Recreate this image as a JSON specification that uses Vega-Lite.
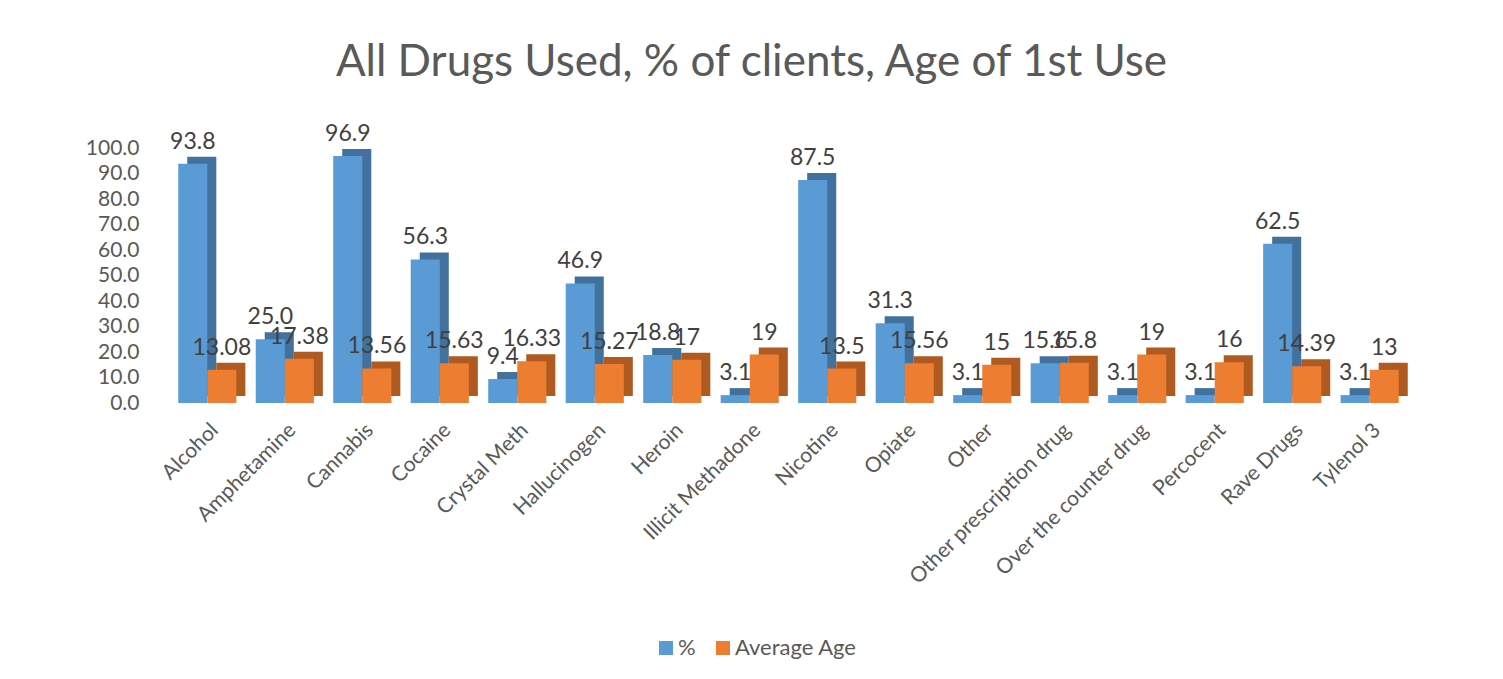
{
  "$schema": "https://vega.github.io/schema/vega-lite/v6.json",
  "width": 1267,
  "height": 255,
  "autosize": {"type": "none"},
  "padding": {"left": 155, "top": 148, "right": 81, "bottom": 276},
  "background": "white",
  "config": {
    "view": {"stroke": null},
    "font": "Lato"
  },
  "title": {
    "text": "All Drugs Used, % of clients, Age of 1st Use",
    "fontSize": 44,
    "font": "Lato",
    "fontWeight": "normal",
    "color": "#595959",
    "anchor": "middle",
    "dx": -37,
    "offset": 38
  },
  "data": {
    "values": [
      {"drug": "Alcohol", "series": "%", "value": 93.8},
      {"drug": "Alcohol", "series": "Average Age", "value": 13.08},
      {"drug": "Amphetamine", "series": "%", "value": 25.0},
      {"drug": "Amphetamine", "series": "Average Age", "value": 17.38},
      {"drug": "Cannabis", "series": "%", "value": 96.9},
      {"drug": "Cannabis", "series": "Average Age", "value": 13.56},
      {"drug": "Cocaine", "series": "%", "value": 56.3},
      {"drug": "Cocaine", "series": "Average Age", "value": 15.63},
      {"drug": "Crystal Meth", "series": "%", "value": 9.4},
      {"drug": "Crystal Meth", "series": "Average Age", "value": 16.33},
      {"drug": "Hallucinogen", "series": "%", "value": 46.9},
      {"drug": "Hallucinogen", "series": "Average Age", "value": 15.27},
      {"drug": "Heroin", "series": "%", "value": 18.8},
      {"drug": "Heroin", "series": "Average Age", "value": 17},
      {"drug": "Illicit Methadone", "series": "%", "value": 3.1},
      {"drug": "Illicit Methadone", "series": "Average Age", "value": 19},
      {"drug": "Nicotine", "series": "%", "value": 87.5},
      {"drug": "Nicotine", "series": "Average Age", "value": 13.5},
      {"drug": "Opiate", "series": "%", "value": 31.3},
      {"drug": "Opiate", "series": "Average Age", "value": 15.56},
      {"drug": "Other", "series": "%", "value": 3.1},
      {"drug": "Other", "series": "Average Age", "value": 15},
      {"drug": "Other prescription drug", "series": "%", "value": 15.6},
      {"drug": "Other prescription drug", "series": "Average Age", "value": 15.8},
      {"drug": "Over the counter drug", "series": "%", "value": 3.1},
      {"drug": "Over the counter drug", "series": "Average Age", "value": 19},
      {"drug": "Percocent", "series": "%", "value": 3.1},
      {"drug": "Percocent", "series": "Average Age", "value": 16},
      {"drug": "Rave Drugs", "series": "%", "value": 62.5},
      {"drug": "Rave Drugs", "series": "Average Age", "value": 14.39},
      {"drug": "Tylenol 3", "series": "%", "value": 3.1},
      {"drug": "Tylenol 3", "series": "Average Age", "value": 13}
    ]
  },
  "encoding": {
    "x": {
      "field": "drug",
      "type": "nominal",
      "sort": null,
      "scale": {"paddingInner": 0.25, "paddingOuter": 0.3},
      "axis": {
        "title": null,
        "labelAngle": -45,
        "labelFontSize": 21,
        "labelColor": "#595959",
        "labelFont": "Lato",
        "labelLimit": 500,
        "domain": false,
        "ticks": false,
        "labelPadding": 16
      }
    },
    "y": {
      "field": "value",
      "type": "quantitative",
      "scale": {"domain": [0, 100]},
      "axis": {
        "title": null,
        "values": [0, 10, 20, 30, 40, 50, 60, 70, 80, 90, 100],
        "format": ".1f",
        "grid": false,
        "domain": false,
        "ticks": false,
        "labelFontSize": 21,
        "labelColor": "#595959",
        "labelFont": "Lato",
        "labelPadding": 16
      }
    }
  },
  "layer": [
    {
      "mark": {"type": "bar", "yOffset": -7},
      "encoding": {
        "xOffset": {"field": "series", "type": "nominal", "sort": ["%", "Average Age"], "scale": {"domain": ["%", "Average Age"], "range": [9, 67.12]}},
        "color": {
          "field": "series",
          "type": "nominal",
          "scale": {"domain": ["%", "Average Age"], "range": ["#41719C", "#AE5A21"]},
          "legend": null
        }
      }
    },
    {
      "mark": {"type": "bar"},
      "encoding": {
        "xOffset": {"field": "series", "type": "nominal", "sort": ["%", "Average Age"], "scale": {"domain": ["%", "Average Age"]}},
        "color": {
          "field": "series",
          "type": "nominal",
          "scale": {"domain": ["%", "Average Age"], "range": ["#5B9BD5", "#ED7D31"]},
          "legend": {
            "title": null,
            "orient": "none",
            "direction": "horizontal",
            "legendX": 500,
            "legendY": 489,
            "symbolType": "square",
            "symbolSize": 196,
            "symbolStrokeWidth": 0,
            "labelFontSize": 22,
            "labelColor": "#595959",
            "labelFont": "Lato",
            "labelOffset": 1,
            "columnPadding": 16
          }
        }
      }
    },
    {
      "transform": [{"filter": "datum.series === '%'"}],
      "mark": {"type": "text", "baseline": "bottom", "dy": -10, "fontSize": 23, "color": "#404040", "font": "Lato"},
      "encoding": {
        "xOffset": {"field": "series", "type": "nominal", "sort": ["%", "Average Age"], "scale": {"domain": ["%", "Average Age"]}},
        "text": {"field": "value", "type": "quantitative", "format": ".1f"}
      }
    },
    {
      "transform": [{"filter": "datum.series === 'Average Age'"}],
      "mark": {"type": "text", "baseline": "bottom", "dy": -10, "fontSize": 23, "color": "#404040", "font": "Lato"},
      "encoding": {
        "xOffset": {"field": "series", "type": "nominal", "sort": ["%", "Average Age"], "scale": {"domain": ["%", "Average Age"]}},
        "text": {"field": "value", "type": "quantitative"}
      }
    }
  ],
  "resolve": {"scale": {"color": "independent", "xOffset": "independent"}}
}
